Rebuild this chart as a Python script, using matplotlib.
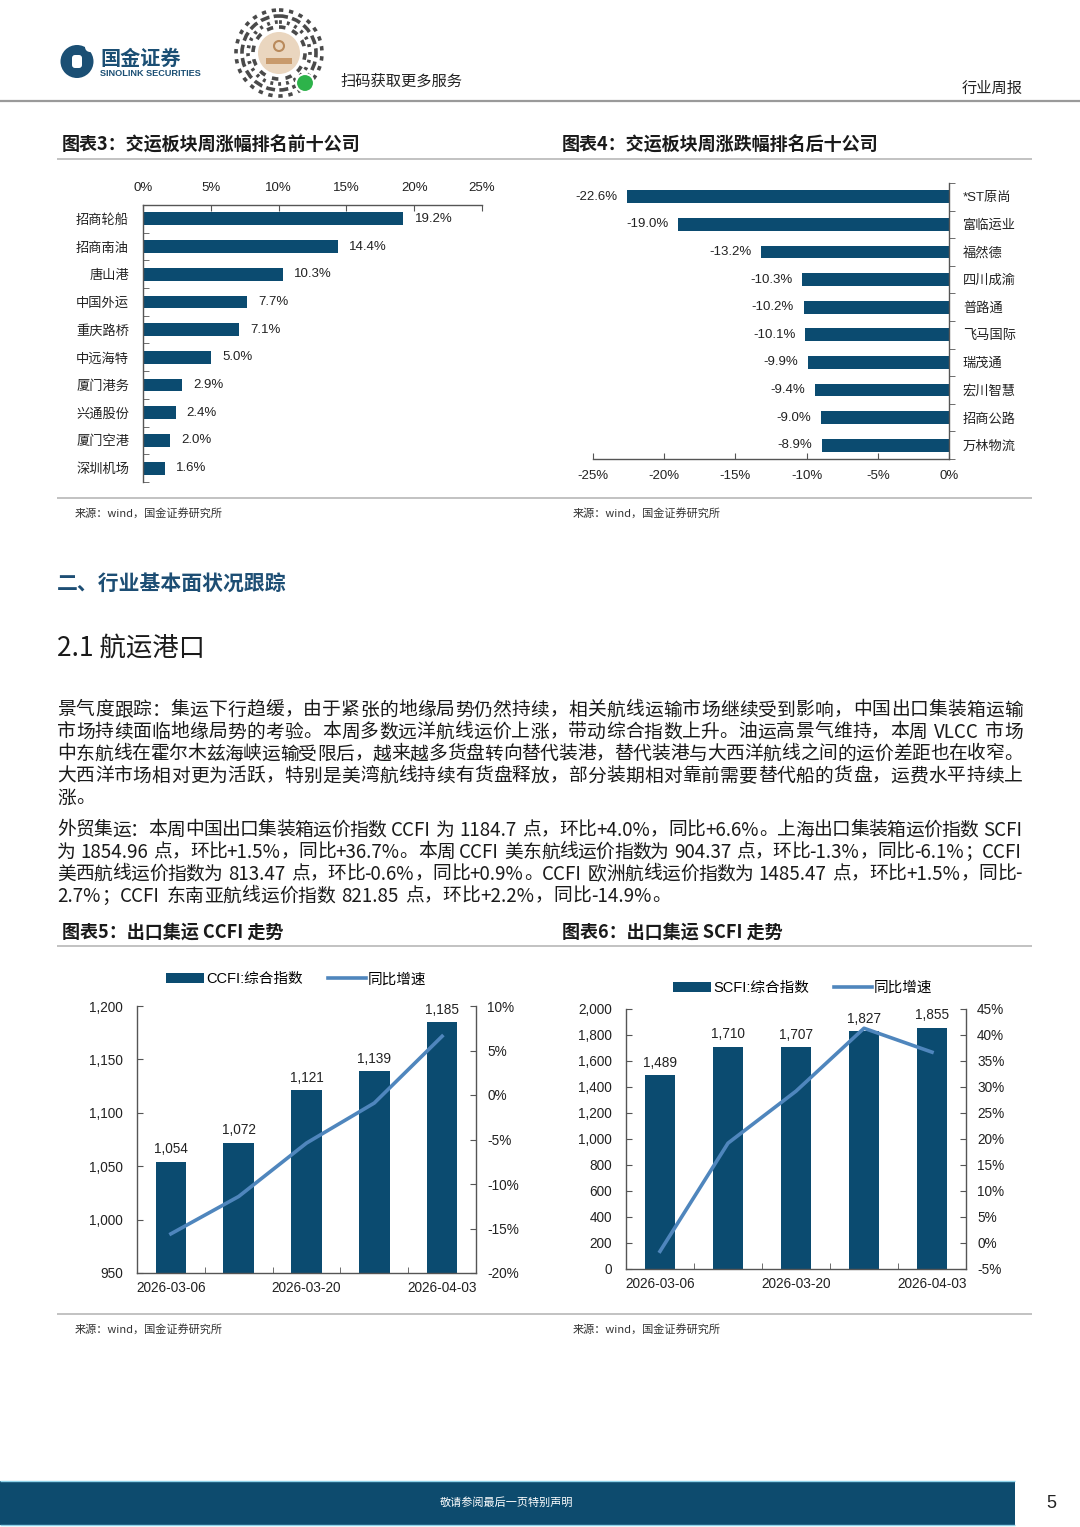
import re
import numpy as np
import matplotlib
matplotlib.use('Agg')
import matplotlib.pyplot as plt
from matplotlib.patches import Circle, Rectangle, FancyBboxPatch

W, H = 1080, 1527
CJK = ['Noto Sans CJK SC', 'DejaVu Sans']
MIX = ['Liberation Sans', 'Noto Sans CJK SC']
BAR = '#0b4b70'
LINE = '#4f86bd'
AX = '#555555'
TXT = '#222222'

plt.rcParams['font.family'] = CJK
plt.rcParams['axes.unicode_minus'] = False

# ---- data ----
top_names = ['招商轮船', '招商南油', '唐山港', '中国外运', '重庆路桥',
             '中远海特', '厦门港务', '兴通股份', '厦门空港', '深圳机场']
top_vals = [19.2, 14.4, 10.3, 7.7, 7.1, 5.0, 2.9, 2.4, 2.0, 1.6]
bot_names = ['*ST原尚', '富临运业', '福然德', '四川成渝', '普路通',
             '飞马国际', '瑞茂通', '宏川智慧', '招商公路', '万林物流']
bot_vals = [-22.6, -19.0, -13.2, -10.3, -10.2, -10.1, -9.9, -9.4, -9.0, -8.9]
dates = ['2026-03-06', '2026-03-13', '2026-03-20', '2026-03-27', '2026-04-03']
ccfi = [1054, 1072, 1121, 1139, 1184.7]
ccfi_yoy = [-15.6, -11.4, -5.4, -0.9, 6.6]
scfi = [1489, 1710, 1707, 1827, 1854.96]
scfi_yoy = [-1.6, 19.2, 29.2, 41.3, 36.7]

para1 = ['景气度跟踪：集运下行趋缓，由于紧张的地缘局势仍然持续，相关航线运输市场继续受到影响，中国出口集装箱运输',
         '市场持续面临地缘局势的考验。本周多数远洋航线运价上涨，带动综合指数上升。油运高景气维持，本周 VLCC 市场',
         '中东航线在霍尔木兹海峡运输受限后，越来越多货盘转向替代装港，替代装港与大西洋航线之间的运价差距也在收窄。',
         '大西洋市场相对更为活跃，特别是美湾航线持续有货盘释放，部分装期相对靠前需要替代船的货盘，运费水平持续上',
         '涨。']
para2 = ['外贸集运：本周中国出口集装箱运价指数 CCFI 为 1184.7 点，环比+4.0%，同比+6.6%。上海出口集装箱运价指数 SCFI',
         '为 1854.96 点，环比+1.5%，同比+36.7%。本周 CCFI 美东航线运价指数为 904.37 点，环比-1.3%，同比-6.1%；CCFI',
         '美西航线运价指数为 813.47 点，环比-0.6%，同比+0.9%。CCFI 欧洲航线运价指数为 1485.47 点，环比+1.5%，同比-',
         '2.7%；CCFI 东南亚航线运价指数 821.85 点，环比+2.2%，同比-14.9%。']

fig = plt.figure(figsize=(W / 100, H / 100), dpi=100)
ov = fig.add_axes([0, 0, 1, 1])
ov.set_xlim(0, W)
ov.set_ylim(H, 0)
ov.set_autoscale_on(False)
ov.axis('off')


def rect(l, t, r, b):
    return [l / W, 1 - b / H, (r - l) / W, (b - t) / H]


def hline(y, x0, x1, c='#bdbdbd', lw=1.3):
    ov.plot([x0, x1], [y, y], color=c, lw=lw, solid_capstyle='butt')


TOK = re.compile(r'[\x21-\x7e]+| +|.')


def body_line(s, y, x0=57, x1=1023, fs=13.5, justify=True):
    rend = fig.canvas.get_renderer()
    em = fs * 100 / 72
    items = []
    for t in TOK.findall(s):
        if t.startswith(' '):
            items.append((None, 0.3 * em * len(t)))
        elif ord(t[0]) > 127:
            o = ov.text(0, y, t, fontsize=fs, va='center', ha='left', color='#1a1a1a')
            items.append((o, em))
        else:
            o = ov.text(0, y, t, fontsize=fs, va='center', ha='left', color='#1a1a1a')
            items.append((o, o.get_window_extent(rend).width + 0.05 * em))
    total = sum(w for _, w in items)
    gap = (x1 - x0 - total) / (len(items) - 1) if justify and len(items) > 1 else 0
    x = x0
    for o, w in items:
        if o is not None:
            o.set_x(x)
        x += w + gap


# ---- header ----
ov.add_patch(Circle((77, 61.5), 16.5, fc='#1b4f74', ec='none'))
ov.add_patch(FancyBboxPatch((72, 55), 10, 13, boxstyle='round,pad=0,rounding_size=3',
                            fc='white', ec='none'))
ov.add_patch(Circle((90, 47), 5, fc='white', ec='none'))
ov.text(100, 58, '国金证券', fontsize=14.5, fontweight='bold', color='#1b4f74', va='center')
ov.text(100, 73, 'SINOLINK SECURITIES', fontsize=6.6, fontweight='bold', color='#1b4f74',
        va='center', family=MIX)
# mini-program code badge
for r, dash in [(43, (1.2, 1.6)), (37, (2.5, 1.2)), (31, (0.8, 1.4)), (26, (1.8, 2.0))]:
    ov.add_patch(Circle((279, 53), r, fc='none', ec='#4a4a4a', lw=2.6, ls=(0, dash)))
ov.add_patch(Circle((279, 53), 21, fc='#ead6bf', ec='none'))
ov.add_patch(Circle((279, 46), 5, fc='none', ec='#b98a5c', lw=1.5))
ov.add_patch(Rectangle((266, 58), 26, 6, fc='#c89a6c', ec='none'))
ov.add_patch(Circle((305, 83), 9, fc='#2db34a', ec='white', lw=1.5))
ov.text(340, 81, '扫码获取更多服务', fontsize=11, color=TXT, va='center')
ov.text(1023, 88, '行业周报', fontsize=11, color=TXT, va='center', ha='right')
hline(101, 0, W, c='#9a9a9a', lw=1.6)

# ---- chart titles / rules ----
ov.text(62, 145, '图表3：交运板块周涨幅排名前十公司', fontsize=13, fontweight='bold', color='#1a1a1a', va='center')
ov.text(562, 145, '图表4：交运板块周涨跌幅排名后十公司', fontsize=13, fontweight='bold', color='#1a1a1a', va='center')
hline(159, 57, 1032)
hline(498, 57, 1032)
ov.text(75, 513, '来源：wind，国金证券研究所', fontsize=8, color='#333333', va='center')
ov.text(573, 513, '来源：wind，国金证券研究所', fontsize=8, color='#333333', va='center')

ov.text(57, 583, '二、行业基本面状况跟踪', fontsize=15, fontweight='bold', color='#1d4e74', va='center')
ov.text(57, 648, '2.1 航运港口', fontsize=19, color='#1a1a1a', va='center')

for i, s in enumerate(para1):
    body_line(s, 710 + 22 * i, justify=(i < len(para1) - 1))
for i, s in enumerate(para2):
    body_line(s, 830 + 22 * i, justify=(i < len(para2) - 1))

ov.text(62, 932, '图表5：出口集运 CCFI 走势', fontsize=13, fontweight='bold', color='#1a1a1a', va='center')
ov.text(562, 932, '图表6：出口集运 SCFI 走势', fontsize=13, fontweight='bold', color='#1a1a1a', va='center')
hline(946, 57, 1032)
hline(1314, 57, 1032)
ov.text(75, 1329, '来源：wind，国金证券研究所', fontsize=8, color='#333333', va='center')
ov.text(573, 1329, '来源：wind，国金证券研究所', fontsize=8, color='#333333', va='center')

# ---- footer ----
ov.add_patch(Rectangle((0, 1481), 1015, 44, fc='#0d4b6e', ec='none'))
hline(1481, 0, 1015, c='#8fd3ea', lw=1)
hline(1525, 0, 1015, c='#8fd3ea', lw=1)
ov.text(507, 1503, '敬请参阅最后一页特别声明', fontsize=8, color='white', ha='center', va='center')
ov.text(1051, 1503, '5', fontsize=13, color=TXT, ha='center', va='center', family=MIX)


def style_spines(ax, show):
    for s in ['top', 'bottom', 'left', 'right']:
        ax.spines[s].set_visible(s in show)
        ax.spines[s].set_color(AX)
        ax.spines[s].set_linewidth(1)
    ax.set_facecolor('none')


# ---- chart 3: top gainers ----
ax3 = fig.add_axes(rect(143, 205, 482, 482))
y = np.arange(len(top_names))
ax3.barh(y, top_vals, height=0.46, color=BAR)
ax3.set_xlim(0, 25)
ax3.set_ylim(len(y) - 0.5, -0.5)
ax3.xaxis.tick_top()
ax3.set_xticks(range(0, 26, 5))
ax3.set_xticklabels([f'{v}%' for v in range(0, 26, 5)], family=MIX, fontsize=9.5, color=TXT)
ax3.tick_params(axis='x', direction='in', length=4, pad=8, color=AX)
ax3.set_yticks(y)
ax3.set_yticklabels(top_names, fontsize=9.5, color=TXT)
ax3.set_yticks(np.arange(-0.5, len(y), 1), minor=True)
ax3.tick_params(axis='y', which='major', length=0, pad=10)
ax3.tick_params(axis='y', which='minor', direction='in', length=4, color=AX)
style_spines(ax3, ['top', 'left'])
for i, v in enumerate(top_vals):
    ax3.annotate(f'{v:.1f}%', (v, i), xytext=(8, 0), textcoords='offset points',
                 va='center', ha='left', fontsize=9.5, family=MIX, color=TXT)

# ---- chart 4: top losers ----
ax4 = fig.add_axes(rect(593, 183, 949, 459))
y = np.arange(len(bot_names))
ax4.barh(y, bot_vals, height=0.46, color=BAR)
ax4.set_xlim(-25, 0)
ax4.set_ylim(len(y) - 0.5, -0.5)
ax4.set_xticks(range(-25, 1, 5))
ax4.set_xticklabels([f'{v}%' for v in range(-25, 1, 5)], family=MIX, fontsize=9.5, color=TXT)
ax4.tick_params(axis='x', direction='in', length=4, pad=8, color=AX)
ax4.yaxis.tick_right()
ax4.set_yticks(y)
ax4.set_yticklabels(bot_names, fontsize=9.5, color=TXT, family=MIX)
ax4.set_yticks(np.arange(-0.5, len(y), 1), minor=True)
ax4.tick_params(axis='y', which='major', length=0, pad=10)
ax4.tick_params(axis='y', which='minor', direction='out', length=4, color=AX)
style_spines(ax4, ['bottom', 'right'])
for i, v in enumerate(bot_vals):
    ax4.annotate(f'{v:.1f}%', (v, i), xytext=(-7, 0), textcoords='offset points',
                 va='center', ha='right', fontsize=9.5, family=MIX, color=TXT)


# ---- charts 5 & 6: index bars + yoy line ----
def combo(box, vals, yoy, name, ylim, ystep, rlim, rstep, leg_xy):
    ax = fig.add_axes(rect(*box))
    x = np.arange(len(vals))
    b = ax.bar(x, vals, width=0.45, color=BAR)
    ax.set_xlim(-0.5, len(vals) - 0.5)
    ax.set_ylim(*ylim)
    ax.set_xticks(x[::2])
    ax.set_xticklabels(dates[::2], family=MIX, fontsize=9.8, color=TXT)
    ax.set_xticks(np.arange(0.5, len(vals) - 1, 1), minor=True)
    ax.tick_params(axis='x', which='major', length=0, pad=6)
    ax.tick_params(axis='x', which='minor', direction='in', length=4, color=AX)
    yt = np.arange(ylim[0], ylim[1] + 1, ystep)
    ax.set_yticks(yt)
    ax.set_yticklabels([f'{v:,}' for v in yt], family=MIX, fontsize=9.8, color=TXT)
    ax.tick_params(axis='y', direction='in', length=4, pad=10, color=AX)
    for i, v in enumerate(vals):
        ax.annotate(f'{round(v):,}', (i, v), xytext=(0, 4), textcoords='offset points',
                    ha='center', va='bottom', fontsize=9.8, family=MIX, color=TXT)
    ax2 = ax.twinx()
    ln, = ax2.plot(x, yoy, color=LINE, lw=2.6)
    ax2.set_ylim(*rlim)
    rt = np.arange(rlim[0], rlim[1] + 1, rstep)
    ax2.set_yticks(rt)
    ax2.set_yticklabels([f'{v}%' for v in rt], family=MIX, fontsize=9.8, color=TXT)
    ax2.tick_params(axis='y', direction='in', length=4, pad=8, color=AX)
    style_spines(ax, ['left', 'bottom'])
    style_spines(ax2, ['right'])
    ax.legend([b, ln], [name, '同比增速'], loc='center', bbox_to_anchor=leg_xy, ncol=2,
              frameon=False, handlelength=2.6, handleheight=0.7, handletextpad=0.15,
              columnspacing=1.7, prop={'family': MIX, 'size': 10.5})


combo((137, 1006, 476, 1273), ccfi, ccfi_yoy, 'CCFI:综合指数', (950, 1200), 50, (-20, 10), 5, (0.47, 1.10))
combo((626, 1009, 966, 1269), scfi, scfi_yoy, 'SCFI:综合指数', (0, 2000), 200, (-5, 45), 5, (0.52, 1.08))

fig.savefig('out.png', dpi=100, facecolor='white')
